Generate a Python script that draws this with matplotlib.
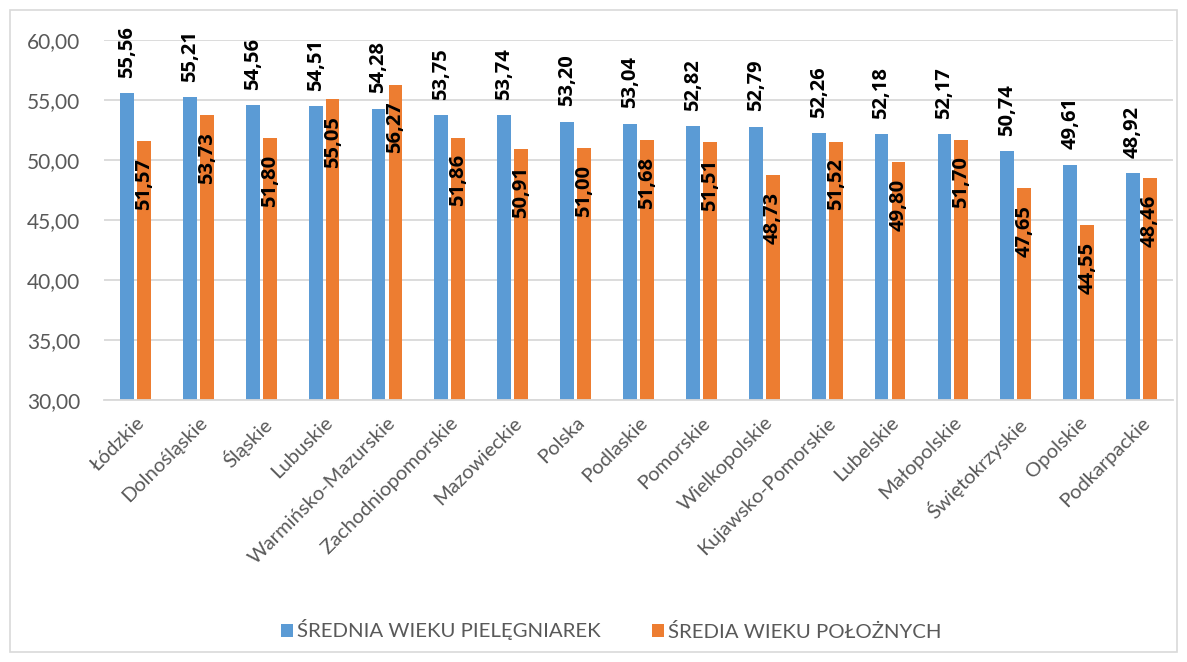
import matplotlib.pyplot as plt
import numpy as np
from matplotlib.patches import Rectangle

regions = ["Łódzkie", "Dolnośląskie", "Śląskie", "Lubuskie", "Warmińsko-Mazurskie",
           "Zachodniopomorskie", "Mazowieckie", "Polska", "Podlaskie", "Pomorskie",
           "Wielkopolskie", "Kujawsko-Pomorskie", "Lubelskie", "Małopolskie",
           "Świętokrzyskie", "Opolskie", "Podkarpackie"]
nurses = [55.56, 55.21, 54.56, 54.51, 54.28, 53.75, 53.74, 53.20, 53.04, 52.82,
          52.79, 52.26, 52.18, 52.17, 50.74, 49.61, 48.92]
midwives = [51.57, 53.73, 51.80, 55.05, 56.27, 51.86, 50.91, 51.00, 51.68, 51.51,
            48.73, 51.52, 49.80, 51.70, 47.65, 44.55, 48.46]
yticks = [30, 35, 40, 45, 50, 55, 60]

plt.rcParams["font.family"] = ["Lato", "DejaVu Sans"]
label_font = ["Open Sans", "DejaVu Sans"]
gray = "#595959"
blue = "#5b9bd5"
orange = "#ed7d31"

fig = plt.figure(figsize=(11.87, 6.62), dpi=100)
ax = fig.add_axes([104 / 1187, 1 - 400 / 662, (1173 - 104) / 1187, 360 / 662])
fig.patches.append(Rectangle((10 / 1187, 10 / 662), 1167 / 1187, 642 / 662,
                             transform=fig.transFigure, fill=False,
                             edgecolor="#d9d9d9", linewidth=1.2))

x = np.arange(len(regions))
w = 0.22
off = 0.135
b1 = ax.bar(x - off, nurses, w, color=blue, label="ŚREDNIA WIEKU PIELĘGNIAREK", zorder=2)
b2 = ax.bar(x + off, midwives, w, color=orange, label="ŚREDIA WIEKU POŁOŻNYCH", zorder=2)

fmt = lambda v: f"{v:.2f}".replace(".", ",")
for xi, v in zip(x, nurses):
    ax.annotate(fmt(v), (xi - off, v), xytext=(0, 11), textcoords="offset points",
                rotation=90, ha="center", va="bottom", fontsize=14.5,
                fontweight="bold", family=label_font, color="black")
for xi, v in zip(x, midwives):
    ax.annotate(fmt(v), (xi + off, v), xytext=(0, -12), textcoords="offset points",
                rotation=90, ha="center", va="top", fontsize=14.5,
                fontweight="bold", family=label_font, color="black")

ax.set_ylim(30, 60)
ax.set_xlim(-0.5, len(regions) - 0.5)
ax.set_yticks(yticks)
ax.set_yticklabels([f"{t},00" for t in yticks], fontsize=15, color=gray)
ax.set_xticks(x)
ax.set_xticklabels(regions, rotation=45, ha="right", rotation_mode="anchor",
                   fontsize=14.5, color=gray)
ax.tick_params(axis="y", length=0, pad=17)
ax.tick_params(axis="x", length=0, pad=10)
ax.grid(axis="y", color="#d9d9d9", linewidth=1.3, zorder=0)
for s in ["top", "right", "left"]:
    ax.spines[s].set_visible(False)
ax.spines["bottom"].set_color("#d9d9d9")
ax.spines["bottom"].set_linewidth(1.3)

fig.legend(handles=[b1, b2], loc="center", bbox_to_anchor=(0.515, 1 - 630 / 662),
           ncol=2, frameon=False, fontsize=14.7, labelcolor=gray,
           handlelength=0.6, handleheight=0.6, handletextpad=0.2, columnspacing=2.5)

fig.savefig("out.png", dpi=100)
